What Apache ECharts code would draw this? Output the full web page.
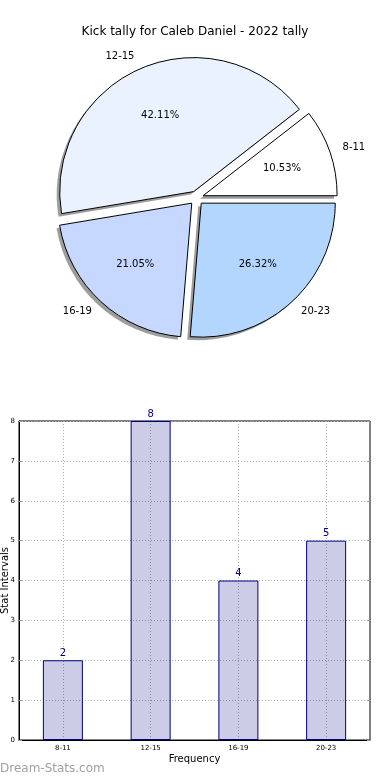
<!DOCTYPE html>
<html><head><meta charset="utf-8">
<script src="https://cdn.jsdelivr.net/npm/echarts@6/dist/echarts.min.js"></script>
<style>html,body{margin:0;padding:0;background:#fff}#c{width:390px;height:780px}</style>
</head><body><div id="c"></div>
<script>
const titleText = 'Kick tally for Caleb Daniel - 2022 tally';
const categories = ['8-11', '12-15', '16-19', '20-23'];
const counts = [2, 8, 4, 5];
const sliceColors = ['#ffffff', '#eaf1ff', '#c6d8ff', '#b3d6ff'];
const yTicks = [0, 1, 2, 3, 4, 5, 6, 7, 8];
const xName = 'Frequency';
const yName = 'Stat Intervals';
const watermark = 'Dream-Stats.com';

const FONT = 'DejaVu Sans';
const R = 134;
const CX = 196.5, CY = 198;
const total = counts.reduce((a, b) => a + b, 0);

const pieData = categories.map((c, i) => ({ name: c, value: counts[i], selected: true, itemStyle: { color: sliceColors[i] } }));
const plainData = categories.map((c, i) => ({ name: c, value: counts[i], selected: true }));

const chart = echarts.init(document.getElementById('c'), null, { renderer: 'canvas' });
const pieCommon = { startAngle: 0, clockwise: false, selectedMode: 'multiple', selectedOffset: 7, avoidLabelOverlap: false, emphasis: { disabled: true } };
const option = {
  animation: false,
  backgroundColor: '#ffffff',
  textStyle: { fontFamily: FONT },
  title: { text: titleText, left: 'center', top: 21, textStyle: { fontFamily: FONT, fontSize: 12, fontWeight: 'normal', color: '#000' } },
  graphic: [{ type: 'text', left: 0, top: 763, style: { text: watermark, fill: '#a0a0a0', font: '12px "DejaVu Sans"' } }],
  grid: { left: 19, right: 20, top: 421, bottom: 40, show: true, borderColor: '#000', borderWidth: 1, backgroundColor: 'transparent', outerBoundsMode: 'none', containLabel: false },
  xAxis: [{
    type: 'category', data: categories, position: 'bottom',
    name: xName, nameLocation: 'middle', nameGap: 14, nameMoveOverlap: false, nameTextStyle: { fontFamily: FONT, fontSize: 10, color: '#000' },
    axisLine: { lineStyle: { color: '#000' } },
    axisTick: { alignWithLabel: true, inside: true, length: 3, lineStyle: { color: '#999' } },
    axisLabel: { fontFamily: FONT, fontSize: 7, color: '#000', margin: 5 },
    splitLine: { show: true, alignWithLabel: true, lineStyle: { color: '#b0b0b0', type: [1, 2], width: 1 } }
  }, {
    type: 'category', data: categories, position: 'top',
    axisLine: { show: false }, axisLabel: { show: false }, splitLine: { show: false },
    axisTick: { alignWithLabel: true, inside: true, length: 3, lineStyle: { color: '#999' } }
  }],
  yAxis: [{
    type: 'value', min: yTicks[0], max: yTicks[yTicks.length - 1], interval: 1, position: 'left',
    name: yName, nameLocation: 'middle', nameGap: 9, nameRotate: 90, nameMoveOverlap: false, nameTextStyle: { fontFamily: FONT, fontSize: 10, color: '#000' },
    axisLine: { show: true, lineStyle: { color: '#000' } },
    axisTick: { show: true, inside: true, length: 3, lineStyle: { color: '#999' } },
    axisLabel: { fontFamily: FONT, fontSize: 7, color: '#000', margin: 4 },
    splitLine: { show: true, lineStyle: { color: '#b0b0b0', type: [1, 2], width: 1 } }
  }, {
    type: 'value', min: yTicks[0], max: yTicks[yTicks.length - 1], interval: 1, position: 'right',
    axisLine: { show: false }, axisLabel: { show: false }, splitLine: { show: false },
    axisTick: { show: true, inside: true, length: 3, lineStyle: { color: '#999' } }
  }],
  series: [{
    type: 'bar', xAxisIndex: 0, yAxisIndex: 0, data: counts, barWidth: 40,
    itemStyle: { color: 'rgba(0,0,128,0.2)', borderColor: '#000080', borderWidth: 1 },
    label: { show: true, position: 'top', distance: 2, color: '#000080', fontFamily: FONT, fontSize: 10 },
    emphasis: { disabled: true }
  }, Object.assign({}, pieCommon, {
    type: 'pie', center: [CX - 3, CY + 3], radius: R, silent: true, z: 1,
    data: plainData,
    itemStyle: { color: 'rgba(77,77,77,0.55)', borderWidth: 0 },
    label: { show: false }, labelLine: { show: false }
  }), Object.assign({}, pieCommon, {
    type: 'pie', center: [CX, CY], radius: R, z: 2,
    data: pieData,
    itemStyle: { borderColor: '#000', borderWidth: 1 },
    select: { itemStyle: { borderColor: '#000', borderWidth: 1 } },
    label: { show: true, position: 'outside', formatter: '{b}', fontFamily: FONT, fontSize: 10, color: '#000', distanceToLabelLine: 0 },
    labelLine: { show: false, length: R * 0.1, length2: 0 }
  }), Object.assign({}, pieCommon, {
    type: 'pie', center: [CX, CY], radius: R * 1.2, silent: true, z: 5,
    data: plainData,
    itemStyle: { color: 'rgba(0,0,0,0)', borderWidth: 0 },
    label: { show: true, position: 'inside', formatter: p => (p.value / total * 100).toFixed(2) + '%', fontFamily: FONT, fontSize: 10, color: '#000' },
    labelLine: { show: false }
  })]
};
chart.setOption(option);
</script></body></html>
